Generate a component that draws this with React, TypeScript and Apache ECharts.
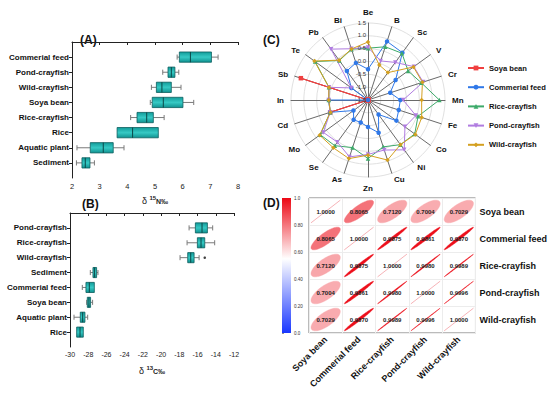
import React, { useEffect, useRef } from 'react';
import * as echarts from 'echarts';

const FONT = 'Arial, "Liberation Sans", sans-serif';

// ---------- Panel A (δ15N) ----------
const catsA = ['Commerial feed', 'Pond-crayfish', 'Wild-crayfish', 'Soya bean', 'Rice-crayfish', 'Rice', 'Aquatic plant', 'Sediment'];
const lowA = [5.80, 5.28, 4.87, 4.83, 4.12, 3.63, 2.18, 2.16];
const q1A = [5.88, 5.47, 5.05, 4.90, 4.35, 3.63, 2.66, 2.36];
const medA = [6.28, 5.59, 5.25, 5.30, 4.70, 4.19, 3.13, 2.48];
const q3A = [7.04, 5.72, 5.59, 6.01, 4.94, 5.12, 3.49, 2.65];
const highA = [7.28, 5.86, 5.94, 6.40, 5.33, 5.12, 3.88, 2.81];

// ---------- Panel B (δ13C) ----------
const catsB = ['Pond-crayfish', 'Rice-crayfish', 'Wild-crayfish', 'Sediment', 'Commerial feed', 'Soya bean', 'Aquatic plant', 'Rice'];
const lowB = [-16.93, -17.15, -17.92, -27.77, -28.65, -28.17, -29.56, -29.27];
const q1B = [-16.24, -16.02, -17.08, -27.48, -28.25, -28.10, -28.87, -29.27];
const medB = [-15.51, -15.62, -16.75, -27.30, -27.88, -27.92, -28.61, -28.90];
const q3B = [-14.92, -15.21, -16.38, -27.08, -27.33, -27.74, -28.36, -28.54];
const highB = [-14.34, -14.12, -15.83, -26.93, -27.33, -27.52, -28.06, -28.54];
const outlierB = [[-15.21, 3]];

// ---------- Panel C (radar), clockwise from top ----------
const elements = ['Be', 'B', 'Sc', 'V', 'Cr', 'Mn', 'Fe', 'Co', 'Ni', 'Cu', 'Zn', 'As', 'Se', 'Mo', 'Cd', 'In', 'Sb', 'Te', 'Pb', 'Bi'];
const soyaBean = [-1.5, -1.5, -1.5, -1.5, -1.5, -1.5, -1.5, -1.5, -1.5, -1.5, -1.5, -1.5, -1.5, -1.5, 0.05, -1.5, 1.25, -1.5, -1.5, -1.5];
const commerialFeed = [-0.30, 0.90, 0.78, -0.17, -0.59, -0.24, -0.24, -0.13, -0.80, -0.16, -0.45, -0.58, -0.55, -0.80, 0.05, 0.03, -1.5, -0.70, -0.10, 0.02];
const riceCrayfish = [0.52, 0.68, 0.75, 0.43, 0.68, 1.28, 0.55, 0.75, 0.65, 0.42, 0.78, 0.45, 0.70, 0.80, 0.05, 0.03, 0.10, 1.05, 0.40, 0.58];
const pondCrayfish = [0.55, 0.10, 0.31, 0.71, 0.76, -0.13, 0.46, 0.28, 0.90, 0.55, 0.62, 0.83, 0.53, 0.65, 0.05, 0.03, 0.10, -0.70, 0.95, 0.60];
const wildCrayfish = [0.76, -0.07, -0.18, 0.69, 0.73, 0.59, 0.70, 0.78, 0.65, 0.96, 0.65, 0.90, 0.80, 0.83, 0.04, 0.03, 0.10, 1.08, 0.42, 0.59];
const radarRange = [-1.5, 1.5];
const radarTickLabels = [-1.5, -1.0, -0.5, 0.0, 0.5, 1.0, 1.5];

// ---------- Panel D (correlation) ----------
const corrNames = ['Soya bean', 'Commerial feed', 'Rice-crayfish', 'Pond-crayfish', 'Wild-crayfish'];
const corrValues = [
  [1.0, 0.8065, 0.7120, 0.7004, 0.7029],
  [0.8065, 1.0, 0.9875, 0.9861, 0.9870],
  [0.7120, 0.9875, 1.0, 0.9980, 0.9989],
  [0.7004, 0.9861, 0.9980, 1.0, 0.9996],
  [0.7029, 0.9870, 0.9989, 0.9996, 1.0],
];

const seriesStyles = [
  { name: 'Soya bean', data: soyaBean, color: '#F04040', symbol: 'rect', rotate: 0 },
  { name: 'Commerial feed', data: commerialFeed, color: '#2F78E8', symbol: 'circle', rotate: 0 },
  { name: 'Rice-crayfish', data: riceCrayfish, color: '#3DAA6A', symbol: 'triangle', rotate: 0 },
  { name: 'Pond-crayfish', data: pondCrayfish, color: '#B07CE0', symbol: 'triangle', rotate: 180 },
  { name: 'Wild-crayfish', data: wildCrayfish, color: '#D4A020', symbol: 'diamond', rotate: 0 },
];

const RADAR_CENTER = [368, 100];
const RADAR_RADIUS = 77;

const toCCW = (arr: any[]) => [arr[0], ...arr.slice(1).reverse()];

function corrColor(v: number): string {
  const w = 0.55;
  if (v >= w) {
    const t = (v - w) / (1 - w);
    const r = Math.round(255 + (236 - 255) * t);
    const g = Math.round(255 + (8 - 255) * t);
    const b = Math.round(255 + (20 - 255) * t);
    return `rgb(${r},${g},${b})`;
  }
  const t = (w - v) / w;
  const r = Math.round(255 + (25 - 255) * t);
  const g = Math.round(255 + (55 - 255) * t);
  return `rgb(${r},${g},255)`;
}

const boxFill = new echarts.graphic.LinearGradient(0, 0, 0, 1, [
  { offset: 0, color: '#129C9A' },
  { offset: 0.5, color: '#36C9C4' },
  { offset: 1, color: '#0F9290' },
]);

function boxRender(params: any, api: any) {
  const pos = api.value(0);
  const lo = api.value(1), q1 = api.value(2), md = api.value(3), q3 = api.value(4), hi = api.value(5);
  const bh = api.size([0, 1])[1] * 0.68;
  const cap = bh * 0.5;
  const pLo = api.coord([lo, pos]);
  const pQ1 = api.coord([q1, pos]);
  const pMd = api.coord([md, pos]);
  const pQ3 = api.coord([q3, pos]);
  const pHi = api.coord([hi, pos]);
  const y = pMd[1];
  const ws = { stroke: '#7a7a7a', lineWidth: 1 };
  const children: any[] = [];
  if (pQ1[0] - pLo[0] > 0.5) {
    children.push({ type: 'line', shape: { x1: pLo[0], y1: y, x2: pQ1[0], y2: y }, style: ws });
    children.push({ type: 'line', shape: { x1: pLo[0], y1: y - cap / 2, x2: pLo[0], y2: y + cap / 2 }, style: ws });
  }
  if (pHi[0] - pQ3[0] > 0.5) {
    children.push({ type: 'line', shape: { x1: pQ3[0], y1: y, x2: pHi[0], y2: y }, style: ws });
    children.push({ type: 'line', shape: { x1: pHi[0], y1: y - cap / 2, x2: pHi[0], y2: y + cap / 2 }, style: ws });
  }
  children.push({
    type: 'rect',
    shape: { x: pQ1[0], y: y - bh / 2, width: pQ3[0] - pQ1[0], height: bh },
    style: { fill: boxFill, stroke: '#0B5E5E', lineWidth: 0.8 },
  });
  children.push({ type: 'line', shape: { x1: pMd[0], y1: y - bh / 2, x2: pMd[0], y2: y + bh / 2 }, style: { stroke: '#0A4848', lineWidth: 1 } });
  return { type: 'group', children };
}

function corrRender(params: any, api: any) {
  const c = api.coord([api.value(0), api.value(1)]);
  const s = api.size([1, 1]);
  const r = api.value(2);
  const hx = s[0] * 0.44;
  const hy = s[1] * 0.42;
  const children: any[] = [];
  if (r >= 0.99999) {
    children.push({ type: 'line', shape: { x1: c[0] - hx, y1: c[1] + hy, x2: c[0] + hx, y2: c[1] - hy }, style: { stroke: '#F4A0A4', lineWidth: 0.8 } });
  } else {
    const d = Math.acos(r);
    const pts: number[][] = [];
    for (let k = 0; k < 96; k++) {
      const t = (k / 96) * 2 * Math.PI;
      pts.push([c[0] + Math.cos(t + d / 2) * hx, c[1] - Math.cos(t - d / 2) * hy]);
    }
    const col = corrColor(r);
    children.push({ type: 'polygon', shape: { points: pts }, style: { fill: col, stroke: col, lineWidth: 0.4 } });
  }
  children.push({
    type: 'text',
    style: { text: r.toFixed(4), x: c[0], y: c[1], align: 'center', verticalAlign: 'middle', fontSize: 6, fontWeight: 'bold', fill: '#222', fontFamily: FONT },
  });
  return { type: 'group', children };
}

function colorbarRender(params: any, api: any) {
  const p0 = api.coord([0, 1]);
  const p1 = api.coord([1, 0]);
  return {
    type: 'rect',
    shape: { x: p0[0], y: p0[1], width: p1[0] - p0[0], height: p1[1] - p0[1] },
    style: {
      fill: new echarts.graphic.LinearGradient(0, 0, 0, 1, [
        { offset: 0, color: corrColor(1) },
        { offset: 0.45, color: '#ffffff' },
        { offset: 1, color: corrColor(0) },
      ]),
    },
  };
}

const catLabelStyle = { fontSize: 8, fontWeight: 'bold', color: '#111', fontFamily: FONT, margin: 3 };
const tickLabelStyle = { fontSize: 7.5, color: '#222', fontFamily: FONT, margin: 4 };
const axisLineStyle = { show: true, lineStyle: { color: '#222', width: 1 } };

const nameRich = {
  a: { fontSize: 9, color: '#222', fontFamily: FONT },
  b: { fontSize: 6, fontWeight: 'bold', color: '#222', fontFamily: FONT, verticalAlign: 'top', padding: [0, 0, 6, 0] },
  c: { fontSize: 7, fontWeight: 'bold', color: '#222', fontFamily: FONT },
};

const panelLabels = [
  { type: 'text', x: 80, y: 40, style: { text: '(A)', font: `bold 12px ${FONT}`, fill: '#111', verticalAlign: 'middle' } },
  { type: 'text', x: 82, y: 204, style: { text: '(B)', font: `bold 12px ${FONT}`, fill: '#111', verticalAlign: 'middle' } },
  { type: 'text', x: 263, y: 40, style: { text: '(C)', font: `bold 12px ${FONT}`, fill: '#111', verticalAlign: 'middle' } },
  { type: 'text', x: 263, y: 203, style: { text: '(D)', font: `bold 12px ${FONT}`, fill: '#111', verticalAlign: 'middle' } },
];

// radial tick labels of the radar, placed along the "Be" spoke with the radar's own scale
const radarScaleLabels = radarTickLabels.map((v) => ({
  type: 'text',
  right: 550 - RADAR_CENTER[0] + 2,
  top: RADAR_CENTER[1] - ((v - radarRange[0]) / (radarRange[1] - radarRange[0])) * RADAR_RADIUS - 3.5,
  z: 50,
  style: { text: v.toFixed(1), font: `6px ${FONT}`, fill: '#333' },
}));

export default function App() {
  const ref = useRef<HTMLDivElement>(null);
  useEffect(() => {
    const chart = echarts.init(ref.current!, null, { renderer: 'svg' });
    const radarIndicators = toCCW(elements).map((n: string) => ({ name: n, min: radarRange[0], max: radarRange[1] }));

    const option: any = {
      animation: false,
      backgroundColor: '#ffffff',
      textStyle: { fontFamily: FONT },
      grid: [
        { left: 72, top: 42, width: 166, height: 136 },
        { left: 70, top: 213, width: 164, height: 134 },
        { left: 309, top: 198, width: 169, height: 135, show: true, borderColor: '#777', borderWidth: 1, backgroundColor: 'transparent' },
        { left: 282, top: 198, width: 9, height: 135 },
      ],
      xAxis: [
        {
          gridIndex: 0, type: 'value', min: 2, max: 8, interval: 1,
          axisLine: axisLineStyle, axisTick: { show: true, length: 3, lineStyle: { color: '#222' } },
          axisLabel: tickLabelStyle, splitLine: { show: false },
          name: '{a|δ }{b|15}{c|N‰}', nameLocation: 'middle', nameGap: 17, nameTextStyle: { rich: nameRich },
        },
        {
          gridIndex: 1, type: 'value', min: -30, max: -12, interval: 2,
          axisLine: axisLineStyle, axisTick: { show: true, length: 3, lineStyle: { color: '#222' } },
          axisLabel: { ...tickLabelStyle, fontSize: 7 }, splitLine: { show: false },
          name: '{a|δ }{b|13}{c|C‰}', nameLocation: 'middle', nameGap: 18, nameTextStyle: { rich: nameRich },
        },
        {
          gridIndex: 2, type: 'category', data: corrNames,
          axisLine: { show: false }, axisTick: { show: false },
          axisLabel: { rotate: 45, fontSize: 9, fontWeight: 'bold', color: '#111', fontFamily: FONT, margin: 5, interval: 0 },
          splitLine: { show: true, interval: 0, lineStyle: { color: '#ececec', width: 1 } },
        },
        { gridIndex: 3, type: 'value', min: 0, max: 1, show: false },
      ],
      yAxis: [
        {
          gridIndex: 0, type: 'value', min: 0, max: 9, interval: 1, inverse: true,
          axisLine: axisLineStyle,
          axisTick: { show: true, length: 3, lineStyle: { color: '#222' }, customValues: catsA.map((_, i) => i + 1) },
          axisLabel: { ...catLabelStyle, customValues: catsA.map((_, i) => i + 1), formatter: (v: number) => catsA[v - 1] || '' },
          splitLine: { show: false },
        },
        {
          gridIndex: 1, type: 'value', min: 0, max: 9, interval: 1, inverse: true,
          axisLine: axisLineStyle,
          axisTick: { show: true, length: 3, lineStyle: { color: '#222' }, customValues: catsB.map((_, i) => i + 1) },
          axisLabel: { ...catLabelStyle, customValues: catsB.map((_, i) => i + 1), formatter: (v: number) => catsB[v - 1] || '' },
          splitLine: { show: false },
        },
        {
          gridIndex: 2, type: 'category', data: corrNames, inverse: true, position: 'right',
          axisLine: { show: false }, axisTick: { show: false },
          axisLabel: { fontSize: 9, fontWeight: 'bold', color: '#111', fontFamily: FONT, margin: 4, interval: 0 },
          splitLine: { show: true, interval: 0, lineStyle: { color: '#ececec', width: 1 } },
        },
        {
          gridIndex: 3, type: 'value', min: 0, max: 1, interval: 0.2, position: 'right',
          axisLine: { show: false },
          axisTick: { show: true, length: 2, lineStyle: { color: '#444', width: 0.6 } },
          axisLabel: { fontSize: 4.5, color: '#333', margin: 3, fontFamily: FONT, formatter: (v: number) => (v === 0 || v === 1 ? v.toFixed(1) : v.toFixed(2)) },
          splitLine: { show: false },
        },
      ],
      radar: {
        center: RADAR_CENTER,
        radius: RADAR_RADIUS,
        startAngle: 90,
        shape: 'circle',
        splitNumber: 6,
        indicator: radarIndicators,
        axisName: { color: '#111', fontSize: 8, fontWeight: 'bold', fontFamily: FONT },
        nameGap: 7,
        axisLine: { lineStyle: { color: '#6a6a6a', width: 1 } },
        splitLine: { lineStyle: { color: '#d8d8d8', width: 0.8 } },
        splitArea: { show: false },
        axisLabel: { show: false },
        axisTick: { show: false },
      },
      legend: {
        orient: 'vertical', left: 467, top: 63, padding: 0, itemWidth: 16, itemHeight: 6, itemGap: 9.2,
        textStyle: { fontSize: 7.6, fontWeight: 'bold', color: '#111', fontFamily: FONT, lineHeight: 10 },
        data: seriesStyles.map((s) => s.name),
      },
      graphic: [...panelLabels, ...radarScaleLabels],
      series: [
        ...seriesStyles.map((s) => ({
          type: 'line', name: s.name, xAxisIndex: 0, yAxisIndex: 0, data: [],
          symbol: s.symbol, symbolRotate: s.rotate, symbolSize: 5,
          itemStyle: { color: s.color }, lineStyle: { color: s.color, width: 1 },
        })),
        {
          type: 'custom', xAxisIndex: 0, yAxisIndex: 0, renderItem: boxRender,
          encode: { x: [1, 2, 3, 4, 5], y: 0 },
          data: catsA.map((_, i) => [i + 1, lowA[i], q1A[i], medA[i], q3A[i], highA[i]]),
          silent: true,
        },
        {
          type: 'custom', xAxisIndex: 1, yAxisIndex: 1, renderItem: boxRender,
          encode: { x: [1, 2, 3, 4, 5], y: 0 },
          data: catsB.map((_, i) => [i + 1, lowB[i], q1B[i], medB[i], q3B[i], highB[i]]),
          silent: true,
        },
        {
          type: 'scatter', xAxisIndex: 1, yAxisIndex: 1, data: outlierB,
          symbol: 'circle', symbolSize: 2.5, itemStyle: { color: '#111' }, silent: true,
        },
        ...seriesStyles.map((s) => ({
          type: 'radar', name: s.name,
          symbol: s.symbol, symbolRotate: s.rotate, symbolSize: 4.5,
          lineStyle: { color: s.color, width: 1 }, itemStyle: { color: s.color },
          data: [{ name: s.name, value: toCCW(s.data) }],
          silent: true,
        })),
        {
          type: 'custom', xAxisIndex: 2, yAxisIndex: 2, renderItem: corrRender,
          encode: { x: 0, y: 1 },
          data: corrValues.flatMap((row, i) => row.map((v, j) => [j, i, v])),
          silent: true,
        },
        {
          type: 'custom', xAxisIndex: 3, yAxisIndex: 3, renderItem: colorbarRender,
          encode: { x: 0, y: 1 },
          data: [[0, 0]],
          silent: true,
        },
      ],
    };
    chart.setOption(option);
    return () => chart.dispose();
  }, []);
  return <div ref={ref} style={{ width: 550, height: 394, position: 'absolute', left: 0, top: 0 }} />;
}
